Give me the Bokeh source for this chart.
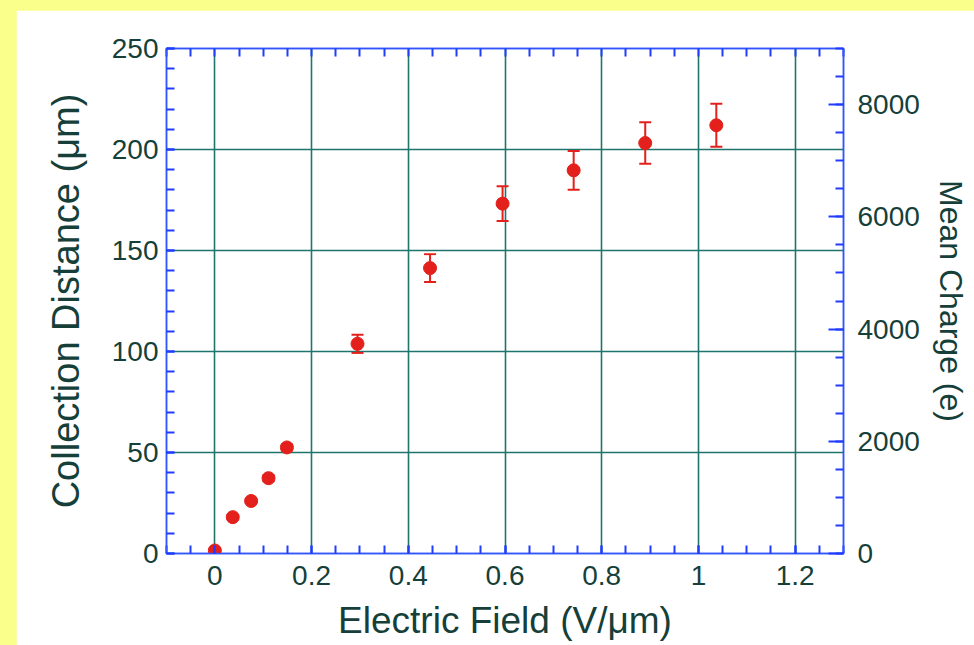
from bokeh.plotting import figure
from bokeh.models import (ColumnDataSource, Range1d, LinearAxis, FixedTicker,
                          Whisker, TeeHead)
from bokeh.layouts import column
from bokeh.embed import file_html
from bokeh.resources import INLINE

# Measured collection distance vs. applied electric field
field = [0.0, 0.037, 0.075, 0.111, 0.149, 0.295, 0.445, 0.595, 0.742, 0.890, 1.037]
distance = [1.5, 18.0, 26.0, 37.3, 52.5, 103.8, 141.3, 173.2, 189.7, 203.2, 212.0]
error = [0.5, 1.0, 1.0, 1.5, 1.5, 4.5, 6.9, 8.6, 9.6, 10.3, 10.6]

# Axis ticks
x_ticks = [0, 0.2, 0.4, 0.6, 0.8, 1.0, 1.2]
y_ticks = [0, 50, 100, 150, 200, 250]
charge_ticks = [0, 2000, 4000, 6000, 8000]
charge_max = 9000  # 36 e per micron of collection distance

RED = "#e3201b"
AXIS_BLUE = "#3355ff"
TICK_BLUE = "#1f3cff"
GRID = "#1f756b"
TEXT = "#163f3a"
FONT = "Liberation Sans"
YELLOW = "#faff8c"

src = ColumnDataSource(dict(
    x=field,
    y=distance,
    upper=[d + e for d, e in zip(distance, error)],
    lower=[d - e for d, e in zip(distance, error)],
))

p = figure(width=958, height=635,
           x_range=Range1d(-0.1, 1.3), y_range=Range1d(0, 250),
           output_backend="svg", toolbar_location=None,
           min_border_left=150, min_border_right=131,
           min_border_top=38, min_border_bottom=92,
           background_fill_color="white", border_fill_color="white",
           outline_line_color=AXIS_BLUE, outline_line_width=1.5)
p.margin = (10, 0, 0, 16)
p.extra_y_ranges = {"charge": Range1d(0, charge_max)}

x_minor = [round(-0.1 + 0.05 * i, 2) for i in range(29)]
y_minor = list(range(0, 251, 10))
c_minor = list(range(0, charge_max + 1, 500))


def style_axis(ax, tick_in=8, minor_in=8):
    ax.axis_line_color = AXIS_BLUE
    ax.axis_line_width = 1.5
    ax.major_tick_line_color = TICK_BLUE
    ax.minor_tick_line_color = TICK_BLUE
    ax.major_tick_line_width = 2
    ax.minor_tick_line_width = 2
    ax.major_tick_in = tick_in
    ax.major_tick_out = 0
    ax.minor_tick_in = minor_in
    ax.minor_tick_out = 0
    ax.major_label_text_font = FONT
    ax.major_label_text_font_size = "28px"
    ax.major_label_text_color = TEXT
    ax.axis_label_text_font = FONT
    ax.axis_label_text_font_size = "37px"
    ax.axis_label_text_font_style = "normal"
    ax.axis_label_text_color = TEXT


xa = p.xaxis[0]
xa.ticker = FixedTicker(ticks=x_ticks, minor_ticks=x_minor)
xa.major_label_overrides = {0: "0", 1: "1"}
style_axis(xa)
xa.major_label_standoff = 12
xa.axis_label = "Electric Field (V/\u03bcm)"
xa.axis_label_standoff = 12

ya = p.yaxis[0]
ya.ticker = FixedTicker(ticks=y_ticks, minor_ticks=y_minor)
style_axis(ya)
ya.major_label_standoff = 8
ya.axis_label = "Collection Distance (\u03bcm)"
ya.axis_label_text_font_size = "38px"
ya.axis_label_standoff = 22

# Top edge: ticks only
top = LinearAxis(ticker=FixedTicker(ticks=[], minor_ticks=x_minor))
style_axis(top)
p.add_layout(top, "above")

right = LinearAxis(y_range_name="charge",
                   ticker=FixedTicker(ticks=charge_ticks, minor_ticks=c_minor))
style_axis(right, tick_in=15, minor_in=8)
right.major_label_standoff = 14
right.axis_label = "Mean Charge (e)"
right.axis_label_text_font_size = "32px"
right.axis_label_standoff = 10
p.add_layout(right, "right")

p.xgrid.ticker = FixedTicker(ticks=x_ticks)
p.ygrid.ticker = FixedTicker(ticks=[50, 100, 150, 200])
for g in (p.xgrid[0], p.ygrid[0]):
    g.grid_line_color = GRID
    g.grid_line_width = 1.6

p.add_layout(Whisker(source=src, base="x", upper="upper", lower="lower",
                     line_color=RED, line_width=2,
                     upper_head=TeeHead(size=12, line_color=RED, line_width=2),
                     lower_head=TeeHead(size=12, line_color=RED, line_width=2)))
p.scatter("x", "y", source=src, size=13, color=RED)

page = column(p, width=974, height=645, styles={"background-color": YELLOW})

open("out.html", "w").write(file_html(page, INLINE))
